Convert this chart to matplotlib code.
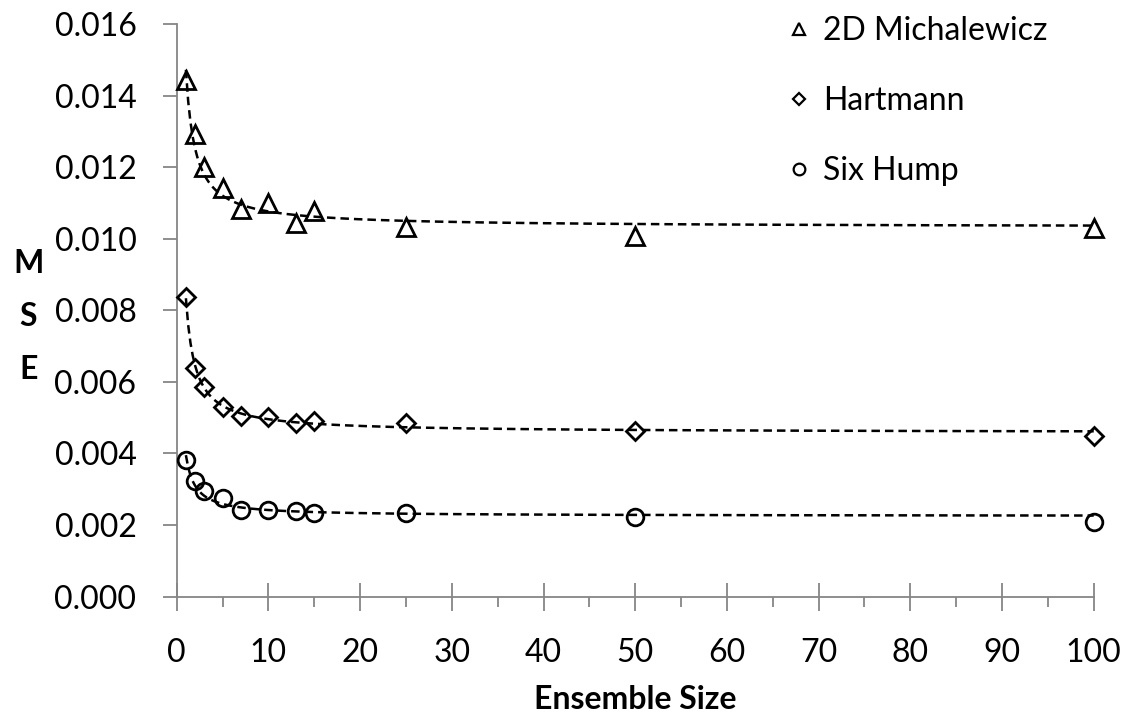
import numpy as np
import matplotlib
matplotlib.use("Agg")
import matplotlib.pyplot as plt
from matplotlib.ticker import MultipleLocator, FormatStrFormatter

plt.rcParams["font.family"] = ["Lato", "DejaVu Sans"]

# ── data ───────────────────────────────────────────────────────────────────
ensemble_size = [1, 2, 3, 5, 7, 10, 13, 15, 25, 50, 100]
mse_michalewicz = [0.01443, 0.01292, 0.01201, 0.01143, 0.01084, 0.01099,
                   0.01043, 0.01079, 0.01033, 0.01009, 0.01030]
mse_hartmann = [0.00837, 0.00638, 0.00587, 0.00531, 0.00505, 0.00501,
                0.00486, 0.00492, 0.00486, 0.00464, 0.00449]
mse_sixhump = [0.00382, 0.00323, 0.00296, 0.00275, 0.00242, 0.00242,
               0.00240, 0.00234, 0.00233, 0.00222, 0.00208]

series_labels = ["2D Michalewicz", "Hartmann", "Six Hump"]
series_values = [mse_michalewicz, mse_hartmann, mse_sixhump]
series_markers = ["^", "D", "o"]
series_sizes = [13, 9, 12]

AXIS_GREY = "#868686"
FS = 23


def fit_inverse(x, y):
    # least squares y = a + b / x (trendline shape of the original)
    x = np.asarray(x, float)
    A = np.column_stack([np.ones_like(x), 1.0 / x])
    coef, *_ = np.linalg.lstsq(A, np.asarray(y, float), rcond=None)
    return coef


fig = plt.figure(figsize=(11.3, 7.25), dpi=100)
ax = fig.add_axes([0.1564, 0.1772, 0.8115, 0.7893])

xs = np.linspace(min(ensemble_size), max(ensemble_size), 400)
handles = []
for label, vals, mk, ms in zip(series_labels, series_values, series_markers, series_sizes):
    a, b = fit_inverse(ensemble_size, vals)
    ax.plot(xs, a + b / xs, color="black", lw=1.8, dashes=(3.4, 2.0), zorder=2,
            clip_on=False)
    h, = ax.plot(ensemble_size, vals, linestyle="none", marker=mk, ms=ms,
                 mfc="none", mec="black", mew=2.0, zorder=3, label=label,
                 clip_on=False)
    handles.append(h)

ax.set_xlim(0, 100)
ax.set_ylim(0, 0.016)
ax.xaxis.set_major_locator(MultipleLocator(10))
ax.xaxis.set_minor_locator(MultipleLocator(5))
ax.yaxis.set_major_locator(MultipleLocator(0.002))
ax.yaxis.set_major_formatter(FormatStrFormatter("%.3f"))

for side in ("top", "right"):
    ax.spines[side].set_visible(False)
for side in ("left", "bottom"):
    ax.spines[side].set_color(AXIS_GREY)
    ax.spines[side].set_linewidth(1.3)

ax.tick_params(axis="x", which="major", direction="inout", length=20, width=1.3,
               color=AXIS_GREY, labelsize=FS, pad=20)
ax.tick_params(axis="x", which="minor", direction="out", length=7, width=1.3,
               color=AXIS_GREY)
ax.tick_params(axis="y", which="major", direction="out", length=10, width=1.3,
               color=AXIS_GREY, labelsize=FS, pad=19)

ax.set_xlabel("Ensemble Size", fontsize=FS, fontweight="bold", labelpad=12)
fig.text(0.025, 0.563, "M\nS\nE", fontsize=FS, fontweight="bold",
         ha="center", va="center", linespacing=2.0)

leg = ax.legend(handles=handles, loc="upper right", bbox_to_anchor=(0.963, 1.036),
                frameon=False, fontsize=FS, markerscale=0.7, handlelength=0.6,
                handletextpad=0.45, labelspacing=1.25, borderaxespad=0)
for h in leg.legend_handles:
    h.set_markeredgewidth(1.6)

fig.savefig("out.png", dpi=100, facecolor="white")
